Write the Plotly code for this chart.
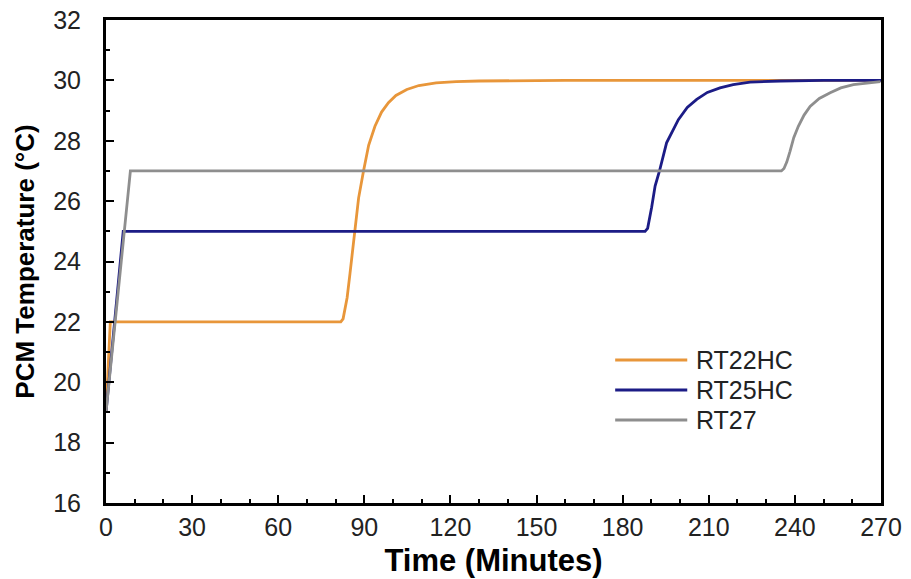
import plotly.graph_objects as go

# RT22HC
t22 = [0, 1.5, 20, 40, 60, 81.8, 82.6, 83.3, 84.0, 85.0, 86.5, 88.0, 89.7, 91.5, 93.7, 96, 98.4, 101, 104.8, 109, 115, 122, 130, 160, 200, 240, 270]
v22 = [19.0, 22.0, 22.0, 22.0, 22.0, 22.0, 22.1, 22.4, 22.8, 23.6, 24.95, 26.1, 26.99, 27.85, 28.48, 28.95, 29.26, 29.5, 29.7, 29.83, 29.92, 29.96, 29.98, 30.0, 30.0, 30.0, 30.0]

# RT25HC
t25 = [0, 6, 30, 60, 100, 150, 187.8, 188.7, 189.4, 190.1, 191.3, 192.8, 195.3, 199.4, 202.5, 205.8, 209.5, 213.9, 218.5, 224.4, 235, 250, 270]
v25 = [19.0, 25.0, 25.0, 25.0, 25.0, 25.0, 25.0, 25.1, 25.4, 25.8, 26.5, 26.99, 27.93, 28.7, 29.1, 29.37, 29.6, 29.75, 29.86, 29.94, 29.98, 30.0, 30.0]

# RT27
t27 = [0, 8.5, 40, 80, 120, 160, 200, 235.3, 236.2, 237.2, 238.3, 239.6, 241.2, 243.2, 245.3, 248.5, 252.3, 256, 260.4, 265, 269.8]
v27 = [19.0, 27.0, 27.0, 27.0, 27.0, 27.0, 27.0, 27.0, 27.08, 27.3, 27.65, 28.1, 28.48, 28.85, 29.14, 29.4, 29.59, 29.75, 29.86, 29.92, 29.96]

series_names = ["RT22HC", "RT25HC", "RT27"]
series_colors = ["#E8963A", "#1C1C86", "#8E8E8E"]

x_ticks = [0, 30, 60, 90, 120, 150, 180, 210, 240, 270]
y_ticks = [16, 18, 20, 22, 24, 26, 28, 30, 32]

FONT = "Liberation Sans, Arial"

fig = go.Figure()
for name, t, v, c in zip(series_names, [t22, t25, t27], [v22, v25, v27], series_colors):
    fig.add_trace(go.Scatter(x=t, y=v, mode="lines", name=name,
                             line=dict(color=c, width=2.8),
                             showlegend=False))

# manual legend
leg_y = [0.296, 0.234, 0.172]
for name, c, ly in zip(series_names, series_colors, leg_y):
    fig.add_shape(type="line", xref="paper", yref="paper",
                  x0=0.657, x1=0.750, y0=ly, y1=ly,
                  line=dict(color=c, width=3))
    fig.add_annotation(xref="paper", yref="paper", x=0.759, y=ly, text=name,
                       showarrow=False, xanchor="left", yanchor="middle",
                       font=dict(family=FONT, size=25, color="#222"))

axis_font = dict(family=FONT, size=25, color="#222")
fig.update_xaxes(range=[0, 270], tickvals=x_ticks, ticks="inside", ticklen=8, tickwidth=2,
                 tickcolor="black", showline=True, linewidth=3, linecolor="black", mirror=True,
                 showgrid=False, zeroline=False, tickfont=axis_font, ticklabelstandoff=0,
                 minor=dict(dtick=10, ticks="inside", ticklen=4, tickwidth=2, tickcolor="black"),
                 title=dict(text="<b>Time (Minutes)</b>", font=dict(family=FONT, size=31, color="black"), standoff=10))
fig.update_yaxes(range=[16, 32], tickvals=y_ticks, ticks="inside", ticklen=8, tickwidth=2,
                 tickcolor="black", showline=True, linewidth=3, linecolor="black", mirror=True,
                 showgrid=False, zeroline=False, tickfont=axis_font, ticklabelstandoff=17,
                 minor=dict(dtick=1, ticks="inside", ticklen=4, tickwidth=2, tickcolor="black"),
                 title=dict(text="<b>PCM Temperature (°C)</b>", font=dict(family=FONT, size=26, color="black"), standoff=12))

fig.update_layout(width=911, height=579, plot_bgcolor="white", paper_bgcolor="white",
                  margin=dict(l=106, r=30, t=20, b=76, autoexpand=False))
fig.write_html("out.html")
